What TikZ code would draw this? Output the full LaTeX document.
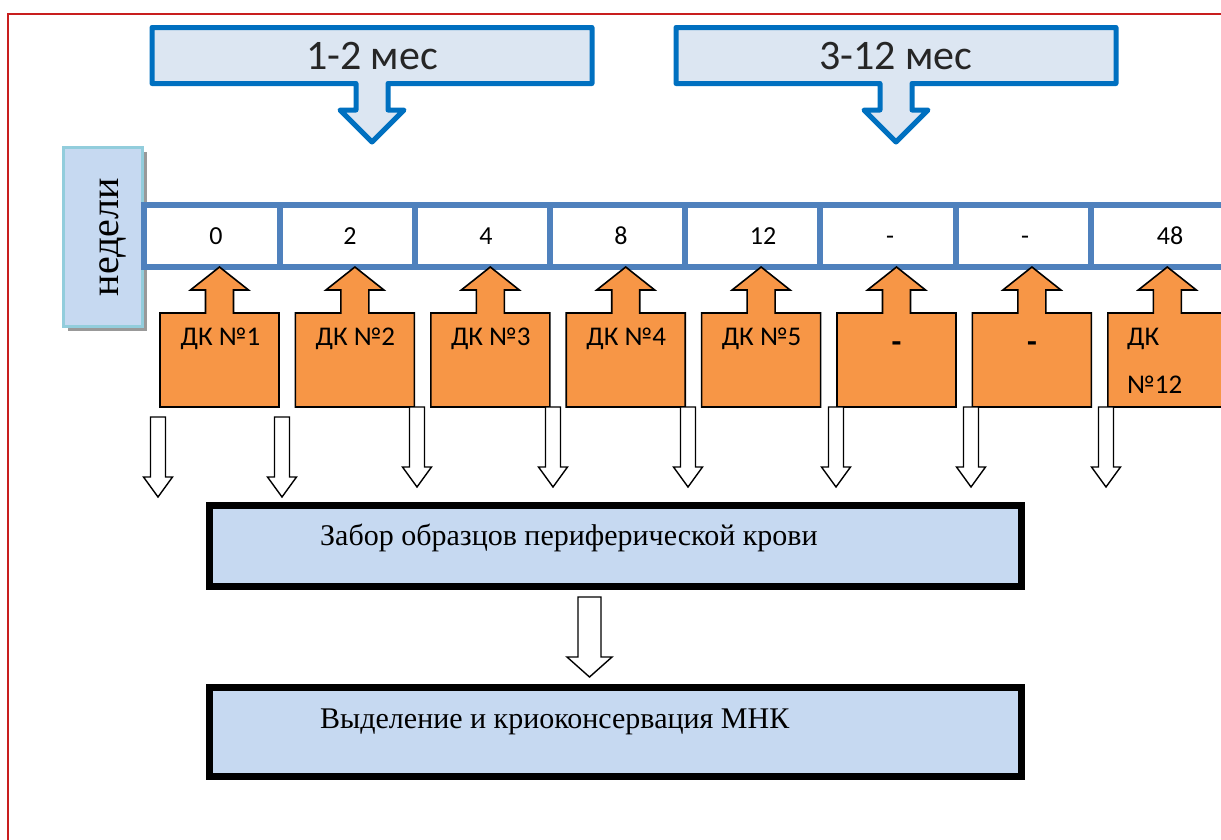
\documentclass[tikz,border=0pt]{standalone}
\usepackage{fontspec}
\setmainfont{Liberation Serif}
\newfontfamily\calib{Carlito}
\usetikzlibrary{calc}

\definecolor{frameRed}{RGB}{200,30,30}
\definecolor{calloutLine}{RGB}{0,112,192}
\definecolor{calloutFill}{RGB}{220,230,242}
\definecolor{barBlue}{RGB}{79,129,189}
\definecolor{paleBlue}{RGB}{198,217,241}
\definecolor{tealLine}{RGB}{146,205,220}
\definecolor{doseOrange}{RGB}{247,150,70}

\tikzset{
  callout/.style={draw=calloutLine, fill=calloutFill, line width=5pt, line join=round},
  calloutText/.style={font=\calib\fontsize{42}{44}\selectfont, text=black!85, anchor=base},
  weekCell/.style={font=\calib\fontsize{26}{28}\selectfont, anchor=base},
  doseShape/.style={draw=black, fill=doseOrange, line width=1.6pt, line join=miter},
  doseText/.style={font=\calib\fontsize{27}{29}\selectfont, anchor=base},
  dashText/.style={font=\calib\bfseries\fontsize{32}{34}\selectfont, anchor=base},
  hollowArrow/.style={draw=black, fill=white, line width=1.4pt, line join=miter},
  stageBox/.style={draw=black, fill=paleBlue, line width=7pt},
  stageText/.style={font=\fontsize{30}{32}\selectfont, anchor=base west, inner sep=0pt},
}

\begin{document}
\begin{tikzpicture}[x=1pt, y=-1pt]
\useasboundingbox (0,0) rectangle (1221,839);

% outer red frame (runs off the page at right and bottom)
\draw[frameRed, line width=2pt] (8,845) -- (8,14) -- (1230,14);

% period callouts
\foreach \cx/\lbl/\nm in {372/{1-2 мес}/calA, 896/{3-12 мес}/calB}{
  \draw[callout] (\cx-220,27.5) -- (\cx+220,27.5) -- (\cx+220,83.5)
     -- (\cx+16,83.5) -- (\cx+16,110) -- (\cx+32,110) -- (\cx,142)
     -- (\cx-32,110) -- (\cx-16,110) -- (\cx-16,83.5) -- (\cx-220,83.5) -- cycle;
  \node[calloutText] (\nm) at (\cx,69) {\lbl};
}

% "weeks" label box with shadow
\fill[black!40] (67.5,151.5) rectangle (146.5,330.5);
\node[draw=tealLine, fill=paleBlue, line width=3pt, minimum width=79pt,
      minimum height=179pt, inner sep=0pt] (weeks) at (103,237) {};
\node[rotate=90, font=\fontsize{40}{42}\selectfont] (weeksTxt) at (113,237) {недели};

% timeline bar
\draw[barBlue, fill=white, line width=6pt] (144,205) rectangle (1240,266.5);
\foreach \x in {280,415,550,685,820,956,1091}{
  \draw[barBlue, line width=6pt] (\x,205) -- (\x,266.5);
}
\foreach \x/\t/\nm in {216/0/w0, 350/2/w2, 486/4/w4, 621/8/w8, 763/12/w12,
                       890/-/wa, 1025/-/wb, 1170/48/w48}{
  \node[weekCell] (\nm) at (\x,244) {\t};
}

% dose blocks with up arrows
\foreach \i in {0,...,7}{
  \pgfmathsetmacro{\L}{160+135.4*\i}
  \pgfmathsetmacro{\c}{\L+59.5}
  \draw[doseShape] (\L,407) -- (\L,313) -- (\c-14,313) -- (\c-14,290)
     -- (\c-29,290) -- (\c,267) -- (\c+29,290) -- (\c+14,290) -- (\c+14,313)
     -- (\L+119,313) -- (\L+119,407) -- cycle;
}
\node[doseText] (dk1) at (220.5,345) {ДК №1};
\node[doseText] (dk2) at (355.4,345) {ДК №2};
\node[doseText] (dk3) at (490.8,345) {ДК №3};
\node[doseText] (dk4) at (626.2,345) {ДК №4};
\node[doseText] (dk5) at (761.6,345) {ДК №5};
\node[dashText] (dk6) at (896.5,352) {-};
\node[dashText] (dk7) at (1031.9,352) {-};
\node[doseText, anchor=base west, inner sep=0pt] (dk12a) at (1127,345) {ДК};
\node[doseText, anchor=base west, inner sep=0pt] (dk12b) at (1127,393) {№12};

% stage boxes
\node[stageBox, minimum width=812pt, minimum height=81pt, inner sep=0pt]
  (sampling) at (615.5,546) {};
\node[stageText] (samplingTxt) at (320,545) {Забор образцов периферической крови};
\node[stageBox, minimum width=812pt, minimum height=89pt, inner sep=0pt]
  (isolation) at (615.5,732) {};
\node[stageText] (isolationTxt) at (320,728) {Выделение и криоконсервация МНК};

% hollow down arrows from the doses to sampling
\foreach \x/\top/\tip in {158/417/497, 282/417/497, 417/407/487, 553/407/487,
                          688/407/487, 836/407/487, 971/407/487, 1106/407/487}{
  \draw[hollowArrow] (\x-7.5,\top) -- (\x+7.5,\top) -- (\x+7.5,\tip-20)
     -- (\x+14.5,\tip-20) -- (\x,\tip) -- (\x-14.5,\tip-20) -- (\x-7.5,\tip-20) -- cycle;
}

% hollow arrow from sampling to isolation
\draw[hollowArrow] (578,597) -- (601,597) -- (601,657) -- (612,657)
   -- (589.5,677) -- (567,657) -- (578,657) -- cycle;
\end{tikzpicture}
\end{document}
